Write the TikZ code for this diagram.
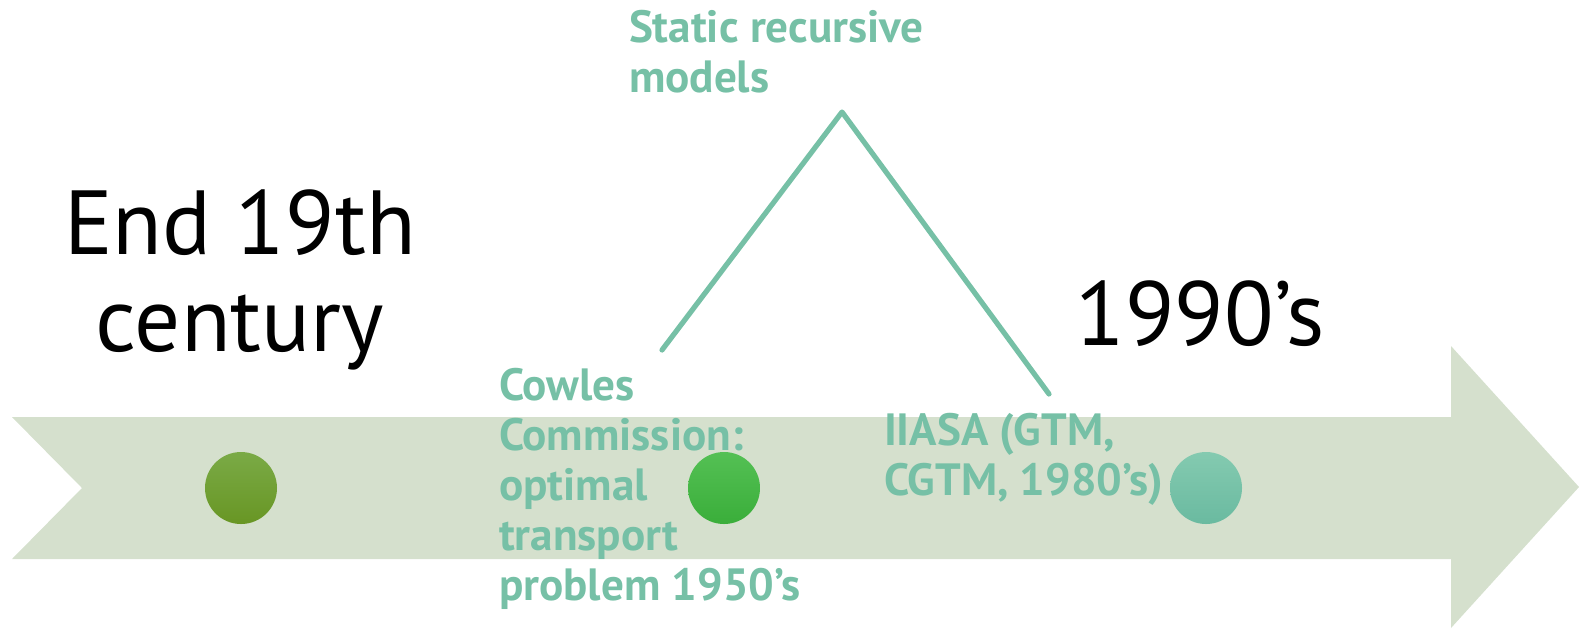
\documentclass[tikz,border=0pt]{standalone}
\usepackage{fontspec}
\setmainfont{PT Sans}
\usepackage{tikz}
\usetikzlibrary{positioning,calc}
\definecolor{band} {RGB}{213,224,205}
\definecolor{sage} {RGB}{118,192,166}
\definecolor{one}  {RGB}{122,170, 70}
\definecolor{onedk}{RGB}{104,150, 36}
\definecolor{two}  {RGB}{ 84,192, 84}
\definecolor{twodk}{RGB}{ 58,174, 58}
\definecolor{three}{RGB}{132,202,176}
\definecolor{threedk}{RGB}{106,186,160}

\begin{document}
\begin{tikzpicture}[x=0.5pt,y=-0.5pt,
    every node/.style={inner sep=0pt,outer sep=0pt},
    era/.style={font=\fontsize{45.5}{48.5}\selectfont,align=center,anchor=base},
    event/.style={font=\bfseries\fontsize{22.6}{25}\selectfont,text=sage,align=left,anchor=base west},
    dot/.style={circle,minimum size=36pt}]

    \useasboundingbox (0,0) rectangle (1579,629);

    % timeline band
    \fill[band] (12,417) -- (1451,417) -- (1451,346) -- (1579,487) -- (1451,628)
        -- (1451,559) -- (12,559) -- (82,488) -- cycle;

    \node[dot,top color=one,bottom color=onedk] (p1) at (241,488) {};
    \node[dot,top color=two,bottom color=twodk] (p2) at (724,488) {};
    \node[dot,top color=three,bottom color=threedk] (p3) at (1206,488) {};

    % base anchor sits on the last line
    \node[era] (start) at (240,351) {End 19th\\century};
    \node[era] (stop) at (1200,345) {1990’s};

    \node[event] (cowles) at (499,600) {Cowles\\Commission:\\optimal\\transport\\problem 1950’s};
    \node[event] (iiasa) at (884,495) {IIASA (GTM,\\CGTM, 1980’s)};
    \node[event] (static) at (629,92) {Static recursive\\models};

    \coordinate (c1) at (662,350);
    \coordinate (apex) at (842,112);
    \coordinate (c2) at (1049,394);
    \draw[sage,line width=2.6pt,line join=round,line cap=round] (c1) -- (apex) -- (c2);

\end{tikzpicture}
\end{document}
